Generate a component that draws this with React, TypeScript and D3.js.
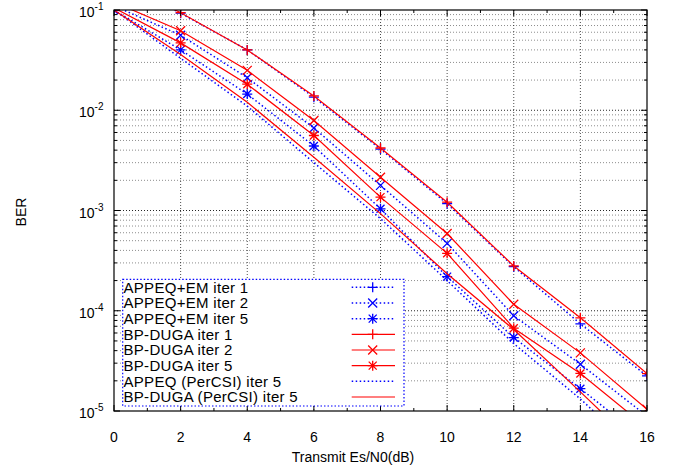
import React from "react";
import * as d3 from "d3";

// ---- data ----
const snr = [0, 2, 4, 6, 8, 10, 12, 14, 16];

const appeqEmIter1 = [0.2, 0.093, 0.04, 0.0135, 0.0041, 0.00117, 2.75e-4, 7.4e-5, 2.24e-5];
const appeqEmIter2 = [0.11, 0.056, 0.0211, 0.00665, 0.00178, 4.7e-4, 8.9e-5, 2.93e-5, 8.9e-6];
const appeqEmIter5 = [0.1, 0.04, 0.0145, 0.0044, 0.00104, 2.19e-4, 5.4e-5, 1.67e-5, 5.0e-6];
const bpDugaIter1 = [0.2, 0.094, 0.04, 0.0139, 0.0042, 0.00121, 2.8e-4, 8.5e-5, 2.36e-5];
const bpDugaIter2 = [0.12, 0.062, 0.025, 0.0079, 0.00215, 5.9e-4, 1.16e-4, 3.8e-5, 1.04e-5];
const bpDugaIter5 = [0.105, 0.047, 0.0182, 0.0056, 0.00136, 3.74e-4, 6.7e-5, 2.37e-5, 6.8e-6];
const appeqPerCsiIter5 = [0.1, 0.033, 0.011, 0.003, 8.3e-4, 2.0e-4, 4.7e-5, 1.32e-5, 3.2e-6];
const bpDugaPerCsiIter5 = [0.1, 0.036, 0.012, 0.0034, 9.3e-4, 2.34e-4, 6.5e-5, 1.55e-5, 3.6e-6];

const seriesNames = [
  "APPEQ+EM iter 1",
  "APPEQ+EM iter 2",
  "APPEQ+EM iter 5",
  "BP-DUGA iter 1",
  "BP-DUGA iter 2",
  "BP-DUGA iter 5",
  "APPEQ (PerCSI) iter 5",
  "BP-DUGA (PerCSI) iter 5",
];
const seriesValues = [
  appeqEmIter1,
  appeqEmIter2,
  appeqEmIter5,
  bpDugaIter1,
  bpDugaIter2,
  bpDugaIter5,
  appeqPerCsiIter5,
  bpDugaPerCsiIter5,
];
const xTicks = [0, 2, 4, 6, 8, 10, 12, 14, 16];
const yTickExponents = [-1, -2, -3, -4, -5];
const xLabel = "Transmit Es/N0(dB)";
const yLabel = "BER";

// ---- styles ----
const BLUE = "#0000ff";
const RED = "#ff0000";
type Marker = "plus" | "cross" | "star" | "none";
const seriesStyle: { color: string; dotted: boolean; marker: Marker }[] = [
  { color: BLUE, dotted: true, marker: "plus" },
  { color: BLUE, dotted: true, marker: "cross" },
  { color: BLUE, dotted: true, marker: "star" },
  { color: RED, dotted: false, marker: "plus" },
  { color: RED, dotted: false, marker: "cross" },
  { color: RED, dotted: false, marker: "star" },
  { color: BLUE, dotted: true, marker: "none" },
  { color: RED, dotted: false, marker: "none" },
];

const W = 678;
const H = 466;
const L = 114;
const R = 647;
const T = 10;
const B = 411;
const FONT = "'Liberation Sans', Arial, Helvetica, sans-serif";

function markerPath(m: Marker, cx: number, cy: number): string {
  const p = 5;
  const c = 4;
  const plus = `M${cx - p},${cy}H${cx + p}M${cx},${cy - p}V${cy + p}`;
  const cross = `M${cx - c},${cy - c}L${cx + c},${cy + c}M${cx - c},${cy + c}L${cx + c},${cy - c}`;
  if (m === "plus") return plus;
  if (m === "cross") return `M${cx - 4.5},${cy - 4.5}L${cx + 4.5},${cy + 4.5}M${cx - 4.5},${cy + 4.5}L${cx + 4.5},${cy - 4.5}`;
  if (m === "star") return plus + cross;
  return "";
}

export default function App() {
  const x = d3.scaleLinear().domain([0, 16]).range([L, R]);
  const y = d3.scaleLog().domain([1e-5, 1e-1]).range([B, T]);

  const line = d3
    .line<number>()
    .x((_, i) => x(snr[i]))
    .y((d) => y(d));

  const minorY: number[] = [];
  for (let e = -5; e < -1; e++) {
    for (let k = 2; k <= 9; k++) minorY.push(k * Math.pow(10, e));
  }
  const majorY = yTickExponents.map((e) => Math.pow(10, e));
  const minorX = d3.range(1, 16, 2);

  // legend geometry
  const legX0 = 122.7;
  const legX1 = 404;
  const legY0 = 279.3;
  const legY1 = 406;
  const rowStep = 15.67;
  const row0 = 287.3;
  const sampleX0 = 351.7;
  const sampleX1 = 395;
  const sampleM = 372.7;

  return (
    <svg width={W} height={H} style={{ display: "block", position: "absolute", left: 0, top: 0 }} fontFamily={FONT}>
      <rect x={0} y={0} width={W} height={H} fill="#fff" />
      <defs>
        <clipPath id="plotclip">
          <rect x={L} y={T} width={R - L} height={B - T} />
        </clipPath>
      </defs>

      {/* grid */}
      <g fill="none" strokeWidth={1}>
        {minorY.map((v) => (
          <line key={"gm" + v} x1={L} x2={R} y1={y(v)} y2={y(v)} stroke="#000" strokeOpacity={0.45} strokeDasharray="1,2" />
        ))}
        {majorY.slice(1, -1).map((v) => (
          <line key={"gM" + v} x1={L} x2={R} y1={y(v)} y2={y(v)} stroke="#000" strokeOpacity={0.85} strokeDasharray="1,2" />
        ))}
        {xTicks.slice(1, -1).map((v) => (
          <line key={"gx" + v} x1={x(v)} x2={x(v)} y1={T} y2={B} stroke="#000" strokeOpacity={0.7} strokeDasharray="1,2" />
        ))}
      </g>

      {/* series */}
      <g clipPath="url(#plotclip)">
        {seriesValues.map((vals, si) => {
          const st = seriesStyle[si];
          return (
            <g key={"s" + si}>
              <path
                d={line(vals) || ""}
                fill="none"
                stroke={st.color}
                strokeWidth={st.dotted ? 1.5 : 1.2}
                strokeDasharray={st.dotted ? "1.5,2.5" : undefined}
              />
              {st.marker !== "none" &&
                vals.map((v, i) =>
                  v <= 0.1 && v >= 1e-5 ? (
                    <path
                      key={i}
                      d={markerPath(st.marker, x(snr[i]), y(v))}
                      stroke={st.color}
                      strokeWidth={1.3}
                      fill="none"
                    />
                  ) : null
                )}
            </g>
          );
        })}
      </g>

      {/* ticks */}
      <g stroke="#000" strokeWidth={1}>
        {xTicks.map((v) => (
          <g key={"tx" + v}>
            <line x1={x(v)} x2={x(v)} y1={B} y2={B - 6} />
            <line x1={x(v)} x2={x(v)} y1={T} y2={T + 6} />
          </g>
        ))}
        {minorX.map((v) => (
          <g key={"tmx" + v}>
            <line x1={x(v)} x2={x(v)} y1={B} y2={B - 3} />
            <line x1={x(v)} x2={x(v)} y1={T} y2={T + 3} />
          </g>
        ))}
        {majorY.map((v) => (
          <g key={"ty" + v}>
            <line x1={L} x2={L + 6} y1={y(v)} y2={y(v)} />
            <line x1={R} x2={R - 6} y1={y(v)} y2={y(v)} />
          </g>
        ))}
        {minorY.map((v) => (
          <g key={"tmy" + v}>
            <line x1={L} x2={L + 3} y1={y(v)} y2={y(v)} />
            <line x1={R} x2={R - 3} y1={y(v)} y2={y(v)} />
          </g>
        ))}
      </g>

      {/* border */}
      <rect x={L} y={T} width={R - L} height={B - T} fill="none" stroke="#000" strokeWidth={1.2} />

      {/* tick labels */}
      <g fontSize={14} fill="#000">
        {xTicks.map((v) => (
          <text key={"lx" + v} x={x(v)} y={442} textAnchor="middle">
            {v}
          </text>
        ))}
        {yTickExponents.map((e) => (
          <text key={"ly" + e} x={103.5} y={y(Math.pow(10, e)) + 7} textAnchor="end">
            <tspan>10</tspan>
            <tspan dy={-7} fontSize={10}>
              {String(e)}
            </tspan>
          </text>
        ))}
      </g>

      {/* axis labels */}
      <text x={353} y={462} textAnchor="middle" fontSize={14}>
        {xLabel}
      </text>
      <text transform={`translate(26,212) rotate(-90)`} textAnchor="middle" fontSize={14}>
        {yLabel}
      </text>

      {/* legend */}
      <rect
        x={legX0}
        y={legY0}
        width={legX1 - legX0}
        height={legY1 - legY0}
        fill="#fff"
        stroke={BLUE}
        strokeWidth={1.2}
        strokeDasharray="1.5,2"
      />
      {seriesNames.map((name, i) => {
        const st = seriesStyle[i];
        const cy = row0 + i * rowStep;
        return (
          <g key={"lg" + i}>
            <text x={123.5} y={cy + 5.3} fontSize={15} letterSpacing={0.3} fill="#000">
              {name}
            </text>
            <line
              x1={sampleX0}
              x2={sampleX1}
              y1={cy}
              y2={cy}
              stroke={st.color}
              strokeWidth={st.dotted ? 1.5 : 1.2}
              strokeDasharray={st.dotted ? "1.5,2.5" : undefined}
            />
            {st.marker !== "none" && (
              <path d={markerPath(st.marker, sampleM, cy)} stroke={st.color} strokeWidth={1.3} fill="none" />
            )}
          </g>
        );
      })}
    </svg>
  );
}
